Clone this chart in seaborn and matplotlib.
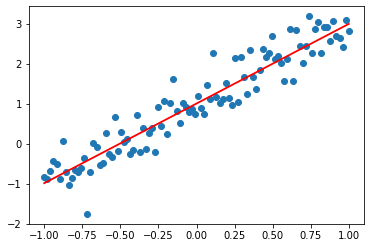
import numpy as np
import pandas as pd
import matplotlib
matplotlib.use("Agg")
import matplotlib.pyplot as plt
import seaborn as sns

# x values: 100 evenly spaced points from -1 to 1
x_start, x_stop, n_points = -1.0, 1.0, 100
x_vals = np.linspace(x_start, x_stop, n_points)

y_vals = [
    -0.83, -0.88, -0.68, -0.43, -0.50, -0.88, 0.07, -0.69, -1.03, -0.86,
    -0.65, -0.69, -0.59, -0.36, -1.75, -0.70, 0.02, -0.08, -0.53, -0.48,
    0.27, -0.25, -0.32, 0.67, -0.18, 0.29, 0.04, 0.12, -0.26, -0.15,
    0.72, -0.21, 0.40, -0.13, 0.27, 0.39, -0.21, 0.93, 0.46, 1.08,
    0.24, 1.02, 1.62, 0.83, 0.52, 1.02, 0.93, 0.81, 0.87, 0.75,
    1.20, 0.89, 0.75, 1.48, 1.13, 2.27, 1.18, 1.02, 1.12, 1.52,
    1.14, 0.98, 2.14, 1.04, 2.18, 1.67, 1.24, 2.35, 1.68, 1.37,
    1.84, 2.38, 2.17, 2.27, 2.69, 2.13, 2.21, 2.02, 1.58, 2.13,
    2.88, 1.58, 2.84, 2.45, 2.02, 2.45, 3.20, 2.27, 2.88, 3.04,
    2.27, 2.92, 2.92, 2.58, 3.08, 2.70, 2.64, 2.42, 3.10, 2.83,
]

# fitted line endpoints
line_x = [-1.0, 1.0]
line_y = [-0.98, 3.00]

df = pd.DataFrame({"x": x_vals, "y": y_vals})
line_df = pd.DataFrame({"x": line_x, "y": line_y})

fig = plt.figure(figsize=(370 / 72, 248 / 72), dpi=72)
ax = fig.add_axes([29 / 370, 1 - 224 / 248, 335 / 370, 218 / 248])

sns.scatterplot(data=df, x="x", y="y", ax=ax, color="#1f77b4",
                s=36, linewidth=1.0, edgecolor="#1f77b4")
sns.lineplot(data=line_df, x="x", y="y", ax=ax, color="red", linewidth=1.8)

ax.set_xlabel("")
ax.set_ylabel("")
ax.set_xticks([-1.0, -0.75, -0.5, -0.25, 0.0, 0.25, 0.5, 0.75, 1.0])
ax.set_xticklabels(["−1.00", "−0.75", "−0.50", "−0.25", "0.00", "0.25", "0.50", "0.75", "1.00"])
ax.set_yticks([-2, -1, 0, 1, 2, 3])
ax.tick_params(labelsize=10)

fig.savefig("out.png", dpi=72)
